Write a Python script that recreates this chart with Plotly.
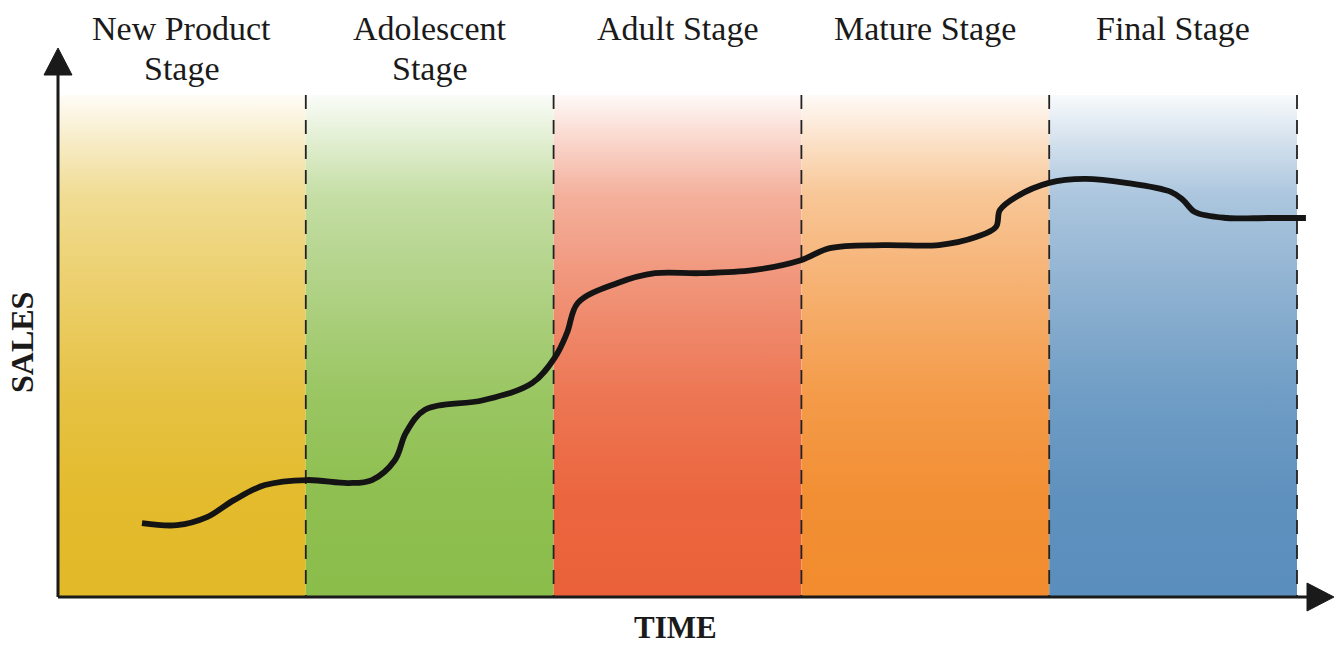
import plotly.graph_objects as go

# ---------------- data ----------------
stage_titles = [["New Product", "Stage"], ["Adolescent", "Stage"], ["Adult Stage"],
                ["Mature Stage"], ["Final Stage"]]
stage_start = [0, 1, 2, 3, 4]
stage_end = [1, 2, 3, 4, 5]
band_colors = [(226, 185, 39), (139, 189, 75), (234, 97, 57), (242, 140, 46), (90, 142, 188)]

time_vals = [0.339, 0.480, 0.601, 0.710, 0.835, 1.005, 1.174, 1.267, 1.360, 1.404, 1.481,
             1.715, 1.913, 2.006, 2.054, 2.098, 2.256, 2.409, 2.591, 2.805, 2.998, 3.115,
             3.329, 3.555, 3.705, 3.785, 3.801, 3.866, 3.999, 4.144, 4.310, 4.491, 4.540,
             4.588, 4.717, 4.883, 5.036]
sales_vals = [14.7, 14.3, 15.9, 19.3, 22.3, 23.3, 22.7, 23.3, 27.3, 32.7, 37.3,
              39.2, 42.6, 47.8, 52.6, 58.6, 62.5, 64.5, 64.5, 65.1, 67.1, 69.5,
              70.1, 70.1, 71.7, 73.7, 77.1, 79.7, 82.5, 83.3, 82.5, 80.7, 79.1,
              76.7, 75.5, 75.5, 75.5]

band_top = 100
x_label = "TIME"
y_label = "SALES"

# ---------------- geometry ----------------
PX_X = 247.8               # pixels per time unit
PX_Y = 5.02                # pixels per sales unit
W, H = 1336, 646
X0_PX, Y0_PX = 58, 597
x_range = [-X0_PX / PX_X, (W - X0_PX) / PX_X]
y_range = [-(H - Y0_PX) / PX_Y, Y0_PX / PX_Y]


def px_x(p):
    return (p - X0_PX) / PX_X


def px_y(p):
    return (Y0_PX - p) / PX_Y


def mix(c, w):
    r, g, b = c
    return "rgb(%d,%d,%d)" % (round(r + (255 - r) * w), round(g + (255 - g) * w), round(b + (255 - b) * w))


grad_pos = [0.0, 0.2, 0.4, 0.55, 0.7, 0.8, 0.9, 1.0]
grad_mix = [0.0, 0.03, 0.13, 0.26, 0.4, 0.5, 0.72, 0.96]

FONT = "Liberation Serif, DejaVu Serif, serif"
INK = "#1a1a1a"

fig = go.Figure()

# gradient bands
for xs, xe, col in zip(stage_start, stage_end, band_colors):
    fig.add_trace(go.Scatter(
        x=[xs, xe, xe, xs, xs], y=[0, 0, band_top, band_top, 0],
        mode="lines", line=dict(width=0), fill="toself",
        fillgradient=dict(type="vertical", start=0, stop=band_top,
                          colorscale=[[p, mix(col, m)] for p, m in zip(grad_pos, grad_mix)]),
        hoverinfo="skip", showlegend=False))

# dashed dividers
for xe in stage_end:
    fig.add_trace(go.Scatter(
        x=[xe, xe], y=[band_top, 0], mode="lines",
        line=dict(color="#222222", width=1.8, dash="14px,11px"),
        hoverinfo="skip", showlegend=False))

# sales curve
fig.add_trace(go.Scatter(
    x=time_vals, y=sales_vals, mode="lines",
    line=dict(color="#141414", width=5.8, shape="spline", smoothing=1.0),
    hoverinfo="skip", showlegend=False))

# axes with arrowheads
head_len_px, head_half_px = 27, 14
x_tip = px_x(1334)
y_tip = px_y(48)
shapes = [
    dict(type="line", x0=0, y0=0, x1=0, y1=y_tip - head_len_px / PX_Y,
         line=dict(color=INK, width=3), layer="above"),
    dict(type="line", x0=0, y0=0, x1=x_tip - head_len_px / PX_X, y1=0,
         line=dict(color=INK, width=3), layer="above"),
    dict(type="path",
         path="M %f,%f L %f,%f L %f,%f Z" % (
             0, y_tip,
             -head_half_px / PX_X, y_tip - head_len_px / PX_Y,
             head_half_px / PX_X, y_tip - head_len_px / PX_Y),
         fillcolor=INK, line=dict(color=INK, width=1), layer="above"),
    dict(type="path",
         path="M %f,%f L %f,%f L %f,%f Z" % (
             x_tip, 0,
             x_tip - head_len_px / PX_X, head_half_px / PX_Y,
             x_tip - head_len_px / PX_X, -head_half_px / PX_Y),
         fillcolor=INK, line=dict(color=INK, width=1), layer="above"),
]

annotations = []
line_centers_px = [28, 68]
for xs, xe, lines in zip(stage_start, stage_end, stage_titles):
    for i, txt in enumerate(lines):
        annotations.append(dict(
            x=(xs + xe) / 2, y=px_y(line_centers_px[i]), xref="x", yref="y",
            text=txt, showarrow=False, xanchor="center", yanchor="middle",
            font=dict(family=FONT, size=34, color=INK)))

annotations.append(dict(
    x=px_x(22), y=px_y(343), xref="x", yref="y",
    text="<b>%s</b>" % y_label, textangle=-90, showarrow=False,
    xanchor="center", yanchor="middle", borderpad=0,
    font=dict(family=FONT, size=32, color=INK)))
annotations.append(dict(
    x=px_x(675), y=px_y(627), xref="x", yref="y",
    text="<b>%s</b>" % x_label, showarrow=False,
    xanchor="center", yanchor="middle", borderpad=0,
    font=dict(family=FONT, size=31, color=INK)))

fig.update_layout(
    width=W, height=H, margin=dict(l=0, r=0, t=0, b=0),
    paper_bgcolor="white", plot_bgcolor="white",
    xaxis=dict(range=x_range, visible=False, fixedrange=True),
    yaxis=dict(range=y_range, visible=False, fixedrange=True),
    shapes=shapes, annotations=annotations, showlegend=False)

fig.write_html("out.html",
               config={"displayModeBar": False, "staticPlot": True},
               post_script="document.body.style.margin='0';document.body.style.padding='0';"
                           "document.body.style.overflow='hidden';")
